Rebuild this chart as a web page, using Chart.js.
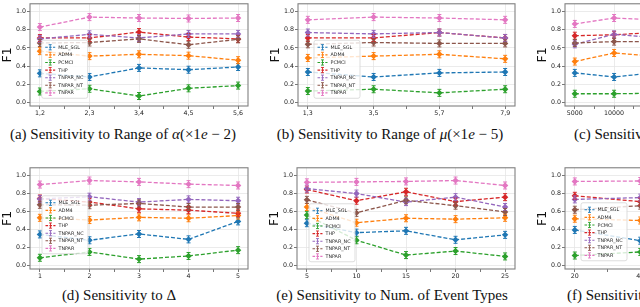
<!DOCTYPE html>
<html><head><meta charset="utf-8">
<script src="https://cdn.jsdelivr.net/npm/chart.js@4.4.0/dist/chart.umd.min.js"></script>
<style>
html,body{margin:0;padding:0;background:#fff;overflow:hidden;width:640px;height:307px;position:relative}
canvas{position:absolute}
.cap{position:absolute;font-family:"Liberation Serif","DejaVu Serif",serif;font-size:15px;color:#111;white-space:nowrap;line-height:16px}
.cap i{font-style:italic}
</style></head><body>
<canvas id="pa"></canvas><canvas id="pb"></canvas><canvas id="pc"></canvas>
<canvas id="pd"></canvas><canvas id="pe"></canvas><canvas id="pf"></canvas>
<div class="cap" id="capa" style="left:-27px;width:300px;text-align:center;top:126px">(a) Sensitivity to Range of <i>α</i>(×1<i>e</i> − 2)</div>
<div class="cap" id="capb" style="left:240px;width:300px;text-align:center;top:126px">(b) Sensitivity to Range of <i>μ</i>(×1<i>e</i> − 5)</div>
<div class="cap" id="capc" style="left:574px;top:126px">(c) Sensitivity to Num. of Samples</div>
<div class="cap" id="capd" style="left:-31px;width:300px;text-align:center;top:287px">(d) Sensitivity to Δ</div>
<div class="cap" id="cape" style="left:242px;width:300px;text-align:center;top:287px">(e) Sensitivity to Num. of Event Types</div>
<div class="cap" id="capf" style="left:567px;top:287px">(f) Sensitivity to Num. of Nodes</div>
<script>
// ---------- series ----------
const seriesNames = ['MLE_SGL','ADM4','PCMCI','THP','TNPAR_NC','TNPAR_NT','TNPAR'];
const seriesColors = ['#1f77b4','#ff7f0e','#2ca02c','#d62728','#9467bd','#8c564b','#e377c2'];

// ---------- (a) range of alpha ----------
const xLabelsA = ['1,2','2,3','3,4','4,5','5,6'];
const aMLE   = [0.32, 0.28, 0.38, 0.36, 0.39];
const aADM4  = [0.565, 0.51, 0.53, 0.515, 0.465];
const aPCMCI = [0.12, 0.15, 0.07, 0.155, 0.185];
const aTHP   = [0.71, 0.71, 0.775, 0.72, 0.70];
const aNC    = [0.70, 0.75, 0.71, 0.755, 0.755];
const aNT    = [0.655, 0.66, 0.70, 0.635, 0.695];
const aTNPAR = [0.83, 0.94, 0.93, 0.925, 0.93];

// ---------- (b) range of mu ----------
const xLabelsB = ['1,3','3,5','5,7','7,9'];
const bMLE   = [0.335, 0.28, 0.325, 0.335];
const bADM4  = [0.49, 0.51, 0.53, 0.48];
const bPCMCI = [0.125, 0.145, 0.105, 0.145];
const bTHP   = [0.71, 0.71, 0.77, 0.71];
const bNC    = [0.77, 0.755, 0.77, 0.71];
const bNT    = [0.64, 0.66, 0.65, 0.65];
const bTNPAR = [0.91, 0.94, 0.93, 0.91];

// ---------- (c) sample size (right part cut off) ----------
const xValsC = [5000, 10000, 15000, 20000, 25000, 30000];
const cMLE   = [0.325, 0.28, 0.325, null, null, null];
const cADM4  = [0.45, 0.545, 0.51, null, null, null];
const cPCMCI = [0.095, 0.095, 0.10, null, null, null];
const cTHP   = [0.735, 0.745, 0.77, null, null, null];
const cNC    = [0.64, 0.75, 0.715, null, null, null];
const cNT    = [0.655, 0.67, 0.67, null, null, null];
const cTNPAR = [0.865, 0.93, 0.91, null, null, null];

// ---------- (d) Delta ----------
const xValsD = [1, 2, 3, 4, 5];
const dMLE   = [0.345, 0.28, 0.35, 0.29, 0.49];
const dADM4  = [0.53, 0.505, 0.535, 0.525, 0.555];
const dPCMCI = [0.085, 0.15, 0.07, 0.105, 0.17];
const dTHP   = [0.745, 0.705, 0.63, 0.615, 0.58];
const dNC    = [0.74, 0.765, 0.705, 0.735, 0.72];
const dNT    = [0.675, 0.67, 0.69, 0.65, 0.65];
const dTNPAR = [0.90, 0.945, 0.93, 0.905, 0.89];

// ---------- (e) num. of event types ----------
const xValsE = [5, 10, 15, 20, 25];
const eMLE   = [0.47, 0.365, 0.385, 0.285, 0.34];
const eADM4  = [0.65, 0.475, 0.525, 0.515, 0.53];
const ePCMCI = [0.56, 0.28, 0.115, 0.16, 0.10];
const eTHP   = [0.845, 0.72, 0.82, 0.71, 0.76];
const eNC    = [0.855, 0.80, 0.705, 0.76, 0.65];
const eNT    = [0.73, 0.585, 0.725, 0.665, 0.595];
const eTNPAR = [0.925, 0.93, 0.935, 0.945, 0.89];

// ---------- (f) (right part cut off) ----------
const xValsF = [20, 40, 60, 80];
const fMLE   = [0.395, 0.275, null, null];
const fADM4  = [0.52, 0.50, null, null];
const fPCMCI = [0.11, 0.15, null, null];
const fTHP   = [0.775, 0.71, null, null];
const fNC    = [0.735, 0.755, null, null];
const fNT    = [0.62, 0.665, null, null];
const fTNPAR = [0.935, 0.94, null, null];

const yTicks = [0, 0.2, 0.4, 0.6, 0.8, 1.0];

// ---------- plugin: error caps, frame, inner legend ----------
const extras = {
  id: 'extras',
  afterDatasetsDraw(chart) {
    const ctx = chart.ctx;
    chart.data.datasets.forEach((ds, i) => {
      const meta = chart.getDatasetMeta(i);
      ctx.save();
      ctx.strokeStyle = ds.borderColor; ctx.lineWidth = 1; ctx.setLineDash([]);
      meta.data.forEach((pt, j) => {
        if (pt.skip || ds.data[j].y == null) return;
        const x = pt.x, y = pt.y, h = 3.5, c = 2;
        ctx.beginPath();
        ctx.moveTo(x, y - h); ctx.lineTo(x, y + h);
        ctx.moveTo(x - c, y - h); ctx.lineTo(x + c, y - h);
        ctx.moveTo(x - c, y + h); ctx.lineTo(x + c, y + h);
        ctx.stroke();
      });
      ctx.restore();
    });
    const a = chart.chartArea;
    ctx.save();
    ctx.strokeStyle = '#808080'; ctx.lineWidth = 1.1; ctx.setLineDash([]);
    ctx.strokeRect(a.left, a.top, a.right - a.left, a.bottom - a.top);
    ctx.restore();
  },
  afterDraw(chart, args, opts) {
    const lg = opts.legend; if (!lg) return;
    const ctx = chart.ctx, a = chart.chartArea;
    const bx = a.left + lg.x, by = a.top + lg.y, w = 46, hgt = 58, sp = 7.6;
    ctx.save();
    ctx.beginPath();
    ctx.roundRect(bx, by, w, hgt, 2);
    ctx.fillStyle = 'rgba(255,255,255,0.8)'; ctx.fill();
    ctx.strokeStyle = '#d4d4d4'; ctx.lineWidth = 0.8; ctx.stroke();
    chart.data.datasets.forEach((ds, i) => {
      const y = by + 7 + i * sp;
      ctx.strokeStyle = ds.borderColor; ctx.lineWidth = 1.1;
      ctx.setLineDash([2.6, 1.3]);
      ctx.beginPath(); ctx.moveTo(bx + 3.5, y); ctx.lineTo(bx + 13.5, y); ctx.stroke();
      ctx.setLineDash([]); ctx.lineWidth = 0.9;
      ctx.beginPath();
      ctx.moveTo(bx + 8.5, y - 2.6); ctx.lineTo(bx + 8.5, y + 2.6);
      ctx.moveTo(bx + 7, y - 2.6); ctx.lineTo(bx + 10, y - 2.6);
      ctx.moveTo(bx + 7, y + 2.6); ctx.lineTo(bx + 10, y + 2.6);
      ctx.stroke();
      ctx.fillStyle = '#222'; ctx.font = '4.8px "DejaVu Sans"';
      ctx.textBaseline = 'middle'; ctx.textAlign = 'left';
      ctx.fillText(ds.label, bx + 16.5, y + 0.3);
    });
    ctx.restore();
  }
};

function makePanel(id, p) {
  const cv = document.getElementById(id);
  const padTop = 2, padRight = 4, yW = 30, xH = 16;
  const left = p.L - yW, top = p.T - padTop;
  const W = Math.ceil(p.R - left + padRight), H = Math.ceil(p.B - top + xH);
  cv.width = W; cv.height = H;
  cv.style.left = left + 'px'; cv.style.top = top + 'px';
  cv.style.width = W + 'px'; cv.style.height = H + 'px';
  const majors = p.xs;
  const ticksX = [];
  for (let k = 0; k < majors.length; k++) {
    ticksX.push({ value: majors[k], major: true });
    if (k < majors.length - 1) ticksX.push({ value: (majors[k] + majors[k + 1]) / 2, minor: true });
  }
  const span = majors[majors.length - 1] - majors[0];
  const datasets = p.series.map((vals, i) => ({
    label: seriesNames[i],
    data: vals.map((v, j) => ({ x: majors[j], y: v })),
    borderColor: seriesColors[i], backgroundColor: seriesColors[i],
    borderWidth: 1.3, borderDash: [4, 2],
    pointStyle: 'rectRot', pointRadius: 3.2, pointBorderWidth: 0,
    order: seriesNames.length - i, spanGaps: false
  }));
  new Chart(cv, {
    type: 'line',
    data: { datasets },
    plugins: [extras],
    options: {
      responsive: false, animation: false, devicePixelRatio: 1,
      layout: { padding: { left: 0, top: padTop, right: padRight, bottom: 0 } },
      plugins: { legend: { display: false }, tooltip: { enabled: false },
        extras: { legend: p.legend } },
      scales: {
        x: {
          type: 'linear', min: majors[0] - 0.05 * span, max: majors[majors.length - 1] + 0.05 * span,
          afterBuildTicks: s => { s.ticks = ticksX.map(t => ({ value: t.value, major: !!t.major })); },
          afterFit: s => { s.height = xH; },
          border: { display: false },
          grid: {
            color: c => (c.tick && c.tick.major) ? '#e6e6e6' : 'rgba(0,0,0,0)',
            tickColor: '#555', tickLength: 3, lineWidth: 0.8, drawOnChartArea: true
          },
          ticks: {
            autoSkip: false, maxRotation: 0, padding: 1, color: '#222',
            font: { family: 'DejaVu Sans', size: 6.3 },
            callback: (v) => {
              const k = majors.indexOf(v);
              return k >= 0 ? p.labels[k] : '';
            }
          }
        },
        y: {
          min: -0.04, max: 1.087,
          afterBuildTicks: s => { s.ticks = yTicks.map(v => ({ value: v })); },
          afterFit: s => { s.width = yW; },
          border: { display: false },
          grid: { color: '#e6e6e6', tickColor: '#555', tickLength: 3, lineWidth: 0.8 },
          ticks: { padding: 1, color: '#222', font: { family: 'DejaVu Sans', size: 6.3 },
            callback: v => v.toFixed(1) },
          title: { display: true, text: 'F1', color: '#111',
            font: { family: 'DejaVu Sans', size: 12.5 }, padding: { top: 0, bottom: 0 } }
        }
      }
    }
  });
}

makePanel('pa', { L: 30, T: 1, R: 248, B: 106, xs: [0,1,2,3,4], labels: xLabelsA,
  series: [aMLE, aADM4, aPCMCI, aTHP, aNC, aNT, aTNPAR], legend: { x: 11.7, y: 36.5 } });
makePanel('pb', { L: 298, T: 1, R: 515, B: 106, xs: [0,1,2,3], labels: xLabelsB,
  series: [bMLE, bADM4, bPCMCI, bTHP, bNC, bNT, bTNPAR], legend: { x: 16, y: 36.5 } });
makePanel('pc', { L: 565, T: 1, R: 781, B: 106, xs: xValsC, labels: xValsC.map(String),
  series: [cMLE, cADM4, cPCMCI, cTHP, cNC, cNT, cTNPAR], legend: null });
makePanel('pd', { L: 30, T: 165, R: 248, B: 269, xs: xValsD, labels: xValsD.map(String),
  series: [dMLE, dADM4, dPCMCI, dTHP, dNC, dNT, dTNPAR], legend: { x: 12, y: 28 } });
makePanel('pe', { L: 297, T: 165, R: 515, B: 269, xs: xValsE, labels: xValsE.map(String),
  series: [eMLE, eADM4, ePCMCI, eTHP, eNC, eNT, eTNPAR], legend: { x: 12, y: 36 } });
makePanel('pf', { L: 565, T: 165, R: 781, B: 269, xs: xValsF, labels: xValsF.map(String),
  series: [fMLE, fADM4, fPCMCI, fTHP, fNC, fNT, fTNPAR], legend: { x: 16, y: 35 } });
</script>
</body></html>
